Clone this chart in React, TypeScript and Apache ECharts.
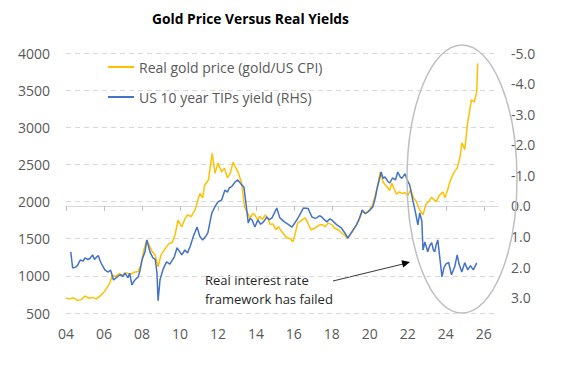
import React, { useEffect, useRef } from "react";
import * as echarts from "echarts";

const titleText = "Gold Price Versus Real Yields";
const goldName = "Real gold price (gold/US CPI)";
const tipsName = "US 10 year TIPs yield (RHS)";
const noteText = "Real interest rate\nframework has failed";

const xTicks = [2004, 2006, 2008, 2010, 2012, 2014, 2016, 2018, 2020, 2022, 2024, 2026];
const rightTicks = [-5, -4, -3, -2, -1, 0, 1, 2, 3];

const goldYears = [
  2004.0, 2004.2, 2004.4, 2004.6, 2004.8, 2005.0, 2005.2, 2005.4, 2005.6, 2005.8,
  2006.0, 2006.3, 2006.45, 2006.6, 2006.8, 2007.0, 2007.2, 2007.4, 2007.6, 2007.8,
  2007.95, 2008.1, 2008.25, 2008.4, 2008.55, 2008.7, 2008.85, 2009.0, 2009.2, 2009.4,
  2009.6, 2009.75, 2009.9, 2010.1, 2010.25, 2010.4, 2010.6, 2010.8, 2011.05, 2011.2,
  2011.3, 2011.5, 2011.7, 2011.85, 2012.0, 2012.2, 2012.35, 2012.5, 2012.65, 2012.8,
  2012.95, 2013.05, 2013.25, 2013.4, 2013.55, 2013.7, 2013.85, 2013.95, 2014.1, 2014.2,
  2014.35, 2014.5, 2014.65, 2014.75, 2014.9, 2015.05, 2015.2, 2015.35, 2015.6, 2015.8,
  2015.95, 2016.1, 2016.2, 2016.4, 2016.6, 2016.75, 2016.9, 2017.1, 2017.3, 2017.5,
  2017.65, 2017.8, 2018.0, 2018.15, 2018.35, 2018.5, 2018.7, 2018.8, 2019.05, 2019.3,
  2019.45, 2019.6, 2019.8, 2020.0, 2020.15, 2020.26, 2020.4, 2020.55, 2020.7, 2020.9,
  2021.05, 2021.15, 2021.3, 2021.4, 2021.55, 2021.7, 2021.85, 2022.0, 2022.15, 2022.3,
  2022.45, 2022.6, 2022.8, 2022.95, 2023.1, 2023.26, 2023.35, 2023.5, 2023.65, 2023.85,
  2023.95, 2024.1, 2024.2, 2024.3, 2024.45, 2024.6, 2024.75, 2024.85, 2025.0, 2025.15,
  2025.35, 2025.5, 2025.63, 2025.68,
];
const goldValues = [
  700, 690, 705, 670, 680, 730, 700, 710, 690, 730,
  780, 900, 1010, 990, 1030, 1010, 1040, 1020, 1050, 1060,
  1150, 1350, 1480, 1400, 1320, 1280, 1120, 1280, 1360, 1430,
  1450, 1560, 1750, 1660, 1760, 1820, 1800, 1890, 2110, 2050,
  2220, 2290, 2650, 2380, 2520, 2400, 2450, 2320, 2380, 2530,
  2450, 2400, 2250, 1930, 1850, 1780, 1840, 1820, 1750, 1800,
  1760, 1820, 1760, 1690, 1700, 1620, 1660, 1600, 1520, 1500,
  1460, 1600, 1710, 1750, 1780, 1700, 1620, 1640, 1680, 1690,
  1660, 1710, 1690, 1640, 1620, 1580, 1540, 1510, 1580, 1690,
  1760, 1860, 1850, 1890, 1960, 2060, 2200, 2400, 2260, 2200,
  2150, 2250, 2160, 2100, 2130, 2110, 2120, 2080, 2160, 2050,
  2000, 1900, 1820, 1960, 2000, 2060, 2030, 2000, 2080, 2130,
  2050, 2160, 2250, 2320, 2400, 2450, 2600, 2790, 2700, 3060,
  3370, 3340, 3480, 3860,
];

const tipsYears = [
  2004.25, 2004.35, 2004.5, 2004.6, 2004.75, 2004.9, 2005.0, 2005.15, 2005.26, 2005.4,
  2005.5, 2005.6, 2005.7, 2005.8, 2005.9, 2006.05, 2006.2, 2006.35, 2006.5, 2006.7,
  2006.85, 2007.0, 2007.1, 2007.26, 2007.35, 2007.47, 2007.63, 2007.8, 2007.9, 2008.0,
  2008.16, 2008.26, 2008.42, 2008.58, 2008.7, 2008.79, 2008.85, 2008.95, 2009.1, 2009.2,
  2009.3, 2009.47, 2009.6, 2009.7, 2009.85, 2010.1, 2010.26, 2010.4, 2010.55, 2010.7,
  2010.9, 2011.05, 2011.2, 2011.35, 2011.47, 2011.68, 2011.84, 2012.0, 2012.2, 2012.37,
  2012.5, 2012.6, 2012.75, 2012.9, 2013.05, 2013.25, 2013.37, 2013.5, 2013.6, 2013.7,
  2013.8, 2013.95, 2014.1, 2014.25, 2014.4, 2014.58, 2014.7, 2014.84, 2015.1, 2015.26,
  2015.5, 2015.7, 2015.9, 2016.15, 2016.3, 2016.5, 2016.75, 2016.95, 2017.1, 2017.2,
  2017.35, 2017.47, 2017.6, 2017.74, 2017.9, 2018.0, 2018.26, 2018.5, 2018.7, 2018.84,
  2019.05, 2019.3, 2019.45, 2019.6, 2019.75, 2019.9, 2020.16, 2020.3, 2020.4, 2020.6,
  2020.7, 2020.8, 2020.95, 2021.05, 2021.2, 2021.35, 2021.47, 2021.6, 2021.68, 2021.85,
  2022.0, 2022.1, 2022.26, 2022.4, 2022.53, 2022.63, 2022.74, 2022.8, 2022.9, 2023.05,
  2023.15, 2023.26, 2023.35, 2023.42, 2023.5, 2023.58, 2023.7, 2023.8, 2023.9, 2024.0,
  2024.15, 2024.3, 2024.47, 2024.6, 2024.7, 2024.84, 2025.0, 2025.16, 2025.3, 2025.45,
  2025.63,
];
const tipsValues = [
  1.5, 2.03, 2.0, 1.95, 1.77, 1.8, 1.7, 1.75, 1.72, 1.6,
  1.75, 1.68, 1.62, 1.8, 1.93, 2.09, 2.16, 2.1, 2.42, 2.32,
  2.25, 2.3, 2.19, 2.35, 2.2, 2.58, 2.42, 2.32, 2.1, 1.77,
  1.5, 1.11, 1.5, 1.7, 1.75, 2.19, 3.1, 2.42, 2.09, 1.95,
  1.83, 1.9, 1.77, 1.67, 1.37, 1.6, 1.44, 1.54, 1.3, 1.01,
  0.69, 1.0, 1.11, 1.0, 0.88, 0.23, 0.03, -0.13, -0.2, -0.52,
  -0.45, -0.59, -0.65, -0.78, -0.85, -0.69, -0.62, 0.03, 0.56, 0.4,
  0.46, 0.69, 0.46, 0.6, 0.52, 0.36, 0.45, 0.4, 0.07, 0.39,
  0.52, 0.6, 0.69, 0.46, 0.3, 0.07, 0.08, 0.36, 0.4, 0.39,
  0.32, 0.36, 0.45, 0.52, 0.42, 0.46, 0.62, 0.72, 0.9, 1.05,
  0.85, 0.62, 0.4, 0.13, 0.25, 0.2, 0.03, -0.3, -0.62, -1.11,
  -0.9, -0.95, -0.8, -0.75, -0.92, -0.85, -1.11, -0.95, -0.9, -1.05,
  -0.8, -0.69, -0.2, 0.2, 0.62, 0.23, 0.5, 1.44, 1.18, 1.5,
  1.3, 1.2, 1.45, 1.5, 1.25, 1.11, 1.77, 2.32, 2.03, 1.9,
  1.85, 2.25, 1.99, 1.6, 1.9, 2.16, 1.86, 2.09, 1.95, 2.09,
  1.86,
];

export default function App() {
  const ref = useRef<HTMLDivElement>(null);
  useEffect(() => {
    if (!ref.current) return;
    const chart = echarts.init(ref.current, null, { renderer: "svg" });
    const labelStyle = { color: "#595959", fontSize: 14, fontFamily: "Open Sans" };
    const arrowTip = [410, 262];
    chart.setOption({
      animation: false,
      backgroundColor: "#ffffff",
      textStyle: { fontFamily: "Open Sans" },
      grid: { left: 66, right: 63, top: 53, bottom: 57, containLabel: false },
      legend: {
        orient: "vertical",
        left: 102,
        top: 55,
        itemWidth: 26,
        itemHeight: 14,
        itemGap: 16,
        itemStyle: { opacity: 0 },
        textStyle: { color: "#595959", fontSize: 14, fontFamily: "Open Sans" },
        data: [goldName, tipsName],
      },
      xAxis: {
        type: "value",
        min: 2004,
        max: 2026.75,
        interval: 2,
        axisLine: { show: true, lineStyle: { color: "#d9d9d9", width: 1 } },
        axisTick: { show: true, length: 5, customValues: xTicks, lineStyle: { color: "#bfbfbf" } },
        axisLabel: {
          ...labelStyle,
          margin: 13,
          customValues: xTicks,
          formatter: (v: number) => String(Math.round(v) % 100).padStart(2, "0"),
        },
        splitLine: { show: false },
      },
      yAxis: [
        {
          type: "value",
          min: 500,
          max: 4000,
          interval: 500,
          axisLine: { show: false },
          axisTick: { show: false },
          axisLabel: { ...labelStyle, margin: 16, formatter: (v: number) => String(v) },
          splitLine: { show: true, lineStyle: { color: "#d9d9d9", type: [5, 4], width: 1 } },
        },
        {
          type: "value",
          min: -5,
          max: 3.5,
          interval: 1,
          inverse: true,
          position: "right",
          axisLine: { show: false },
          axisTick: { show: false },
          axisLabel: {
            ...labelStyle,
            margin: 13,
            customValues: rightTicks,
            formatter: (v: number) => (Math.abs(v) < 1e-9 ? "0.0" : v.toFixed(1)),
          },
          splitLine: { show: false },
        },
      ],
      series: [
        {
          name: goldName,
          type: "line",
          yAxisIndex: 0,
          symbol: "none",
          data: goldYears.map((y, i) => [y, goldValues[i]]),
          lineStyle: { color: "#FFC000", width: 1.5 },
          itemStyle: { color: "#FFC000" },
        },
        {
          name: tipsName,
          type: "line",
          yAxisIndex: 1,
          symbol: "none",
          data: tipsYears.map((y, i) => [y, tipsValues[i]]),
          lineStyle: { color: "#4472C4", width: 1.5 },
          itemStyle: { color: "#4472C4" },
        },
      ],
      graphic: [
        {
          type: "text",
          x: 250.5,
          y: 18,
          scaleX: 0.92,
          style: {
            text: titleText,
            font: 'bold 15px "Open Sans"',
            fill: "#000000",
            align: "center",
            verticalAlign: "middle",
          },
        },
        {
          type: "ellipse",
          shape: { cx: 462, cy: 179, rx: 55, ry: 134 },
          style: { fill: "none", stroke: "#bfbfbf", lineWidth: 1.5 },
          z: 10,
        },
        {
          type: "text",
          x: 205,
          y: 270,
          style: {
            text: noteText,
            font: '13px "Open Sans"',
            fill: "#262626",
            lineHeight: 19,
            align: "left",
            verticalAlign: "top",
          },
        },
        {
          type: "line",
          shape: { x1: 333, y1: 281, x2: 403, y2: 264 },
          style: { stroke: "#404040", lineWidth: 1.2 },
        },
        {
          type: "polygon",
          shape: {
            points: [
              arrowTip,
              [403.2, 267.6],
              [401.4, 260.2],
            ],
          },
          style: { fill: "#000000" },
        },
      ],
    });
    return () => chart.dispose();
  }, []);
  return (
    <div
      ref={ref}
      style={{ position: "fixed", left: 0, top: 0, width: 561, height: 370, background: "#fff" }}
    />
  );
}
